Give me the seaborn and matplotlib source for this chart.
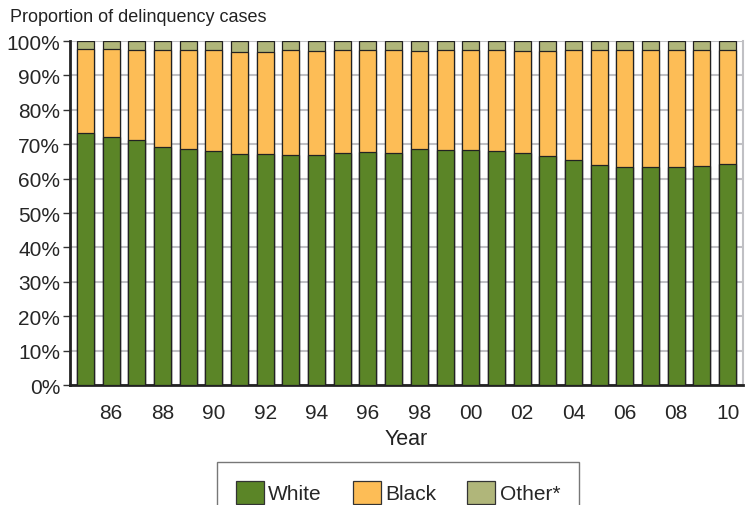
import numpy as np
import pandas as pd
import seaborn as sns
import matplotlib.pyplot as plt
from matplotlib.patches import Patch

years = list(range(1985, 2011))
white = [73.3, 72.2, 71.2, 69.2, 68.5, 67.9, 67.2, 67.2, 66.9, 66.8, 67.3, 67.7, 67.5,
         68.5, 68.2, 68.2, 68.0, 67.3, 66.5, 65.5, 64.0, 63.5, 63.5, 63.3, 63.7, 64.2]
black = [24.4, 25.4, 26.2, 28.2, 28.8, 29.5, 29.7, 29.7, 30.4, 30.2, 30.1, 29.7, 29.8,
         28.6, 29.1, 29.1, 29.3, 29.8, 30.5, 31.8, 33.3, 33.8, 33.8, 34.0, 33.6, 33.1]
other = [round(100 - w - b, 1) for w, b in zip(white, black)]
tick_labels = [str(y)[2:] if y % 2 == 0 else "" for y in years]

colors = {"White": "#5b8527", "Black": "#fdbd56", "Other*": "#b0b67a"}

df = pd.DataFrame({"year": years, "White": white, "Black": black, "Other*": other})
df["wb"] = df["White"] + df["Black"]
df["all"] = df["wb"] + df["Other*"]

sns.set_style("white")
plt.rcParams["font.family"] = ["Liberation Sans", "DejaVu Sans"]

fig = plt.figure(figsize=(7.45, 5.06), dpi=100)
ax = fig.add_axes([70 / 745, 1 - 386 / 506, 673 / 745, 344 / 506])

for col, name in [("all", "Other*"), ("wb", "Black"), ("White", "White")]:
    sns.barplot(data=df, x="year", y=col, color=colors[name], saturation=1,
                width=0.66, edgecolor="#222222", linewidth=0.9, ax=ax, zorder=3)

ax.set_ylim(0, 100)
ax.set_xlim(-0.6, 25.6)
ax.set_yticks(range(0, 101, 10))
ax.set_yticklabels([f"{v}%" for v in range(0, 101, 10)], fontsize=15)
ax.set_xticks(range(len(years)))
ax.set_xticklabels(tick_labels, fontsize=15)
ax.tick_params(axis="x", length=0, pad=13)
ax.tick_params(axis="y", length=5, width=1, color="#333333", pad=2, left=True)
ax.yaxis.grid(True, color="#c0c0c4", linewidth=1.5, zorder=0)
ax.set_axisbelow(True)
ax.set_ylabel("")
ax.set_xlabel("Year", fontsize=15.5, labelpad=4, color="#222222")
for s in ["left", "bottom"]:
    ax.spines[s].set_color("#222222")
    ax.spines[s].set_linewidth(2)
ax.spines["top"].set_visible(False)
ax.spines["right"].set_color("#c0c0c4")
ax.spines["right"].set_linewidth(1.5)

fig.text(10 / 745, 1 - 18 / 506, "Proportion of delinquency cases", fontsize=13,
         va="center", ha="left", color="#222222")

handles = [Patch(facecolor=colors[n], edgecolor="#333333", linewidth=0.9, label=n)
           for n in ["White", "Black", "Other*"]]
leg = fig.legend(handles=handles, loc="upper center", bbox_to_anchor=(0.534, 0.106),
                 ncol=3, fontsize=15, frameon=True, fancybox=False,
                 handlelength=1.35, handleheight=1.35, handletextpad=0.2,
                 columnspacing=1.5, borderpad=0.9)
leg.get_frame().set_edgecolor("#555555")
leg.get_frame().set_linewidth(1)

fig.savefig("out.png", dpi=100)
